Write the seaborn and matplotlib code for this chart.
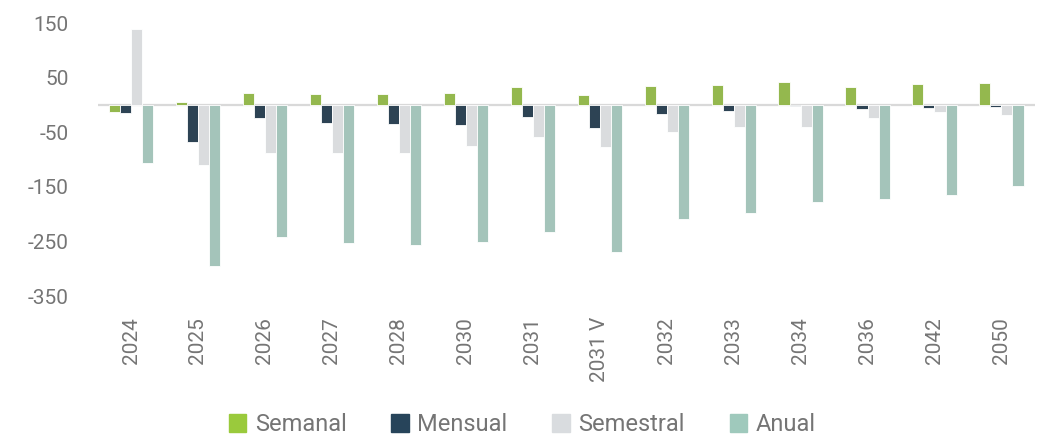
import matplotlib
matplotlib.use("Agg")
import matplotlib.pyplot as plt
import pandas as pd
import seaborn as sns

years = ["2024", "2025", "2026", "2027", "2028", "2030", "2031", "2031 V",
         "2032", "2033", "2034", "2036", "2042", "2050"]
semanal = [-13, 5, 22, 21, 21, 23, 33, 18, 35, 37, 43, 34, 38, 40]
mensual = [-15, -68, -23, -32, -34, -36, -21, -42, -17, -10, -2, -8, -5, -3]
semestral = [140, -110, -88, -87, -87, -75, -58, -77, -50, -40, -40, -23, -12, -19]
anual = [-107, -294, -242, -252, -257, -250, -232, -270, -208, -197, -178, -173, -165, -148]

series = ["Semanal", "Mensual", "Semestral", "Anual"]
colors = ["#9ACA3C", "#27445A", "#D9DCDF", "#9FC9BC"]
yticks = [150, 50, -50, -150, -250, -350]

df = pd.DataFrame({"year": years, "Semanal": semanal, "Mensual": mensual,
                   "Semestral": semestral, "Anual": anual})
long = df.melt(id_vars="year", var_name="serie", value_name="valor")

sns.set_style("white")
plt.rcParams["font.family"] = ["Roboto", "DejaVu Sans"]
plt.rcParams["axes.unicode_minus"] = False
txt = "#757575"

fig = plt.figure(figsize=(10.38, 4.38), dpi=100)
ax = fig.add_axes([0.094, 0.324, 0.903, 0.623])

sns.barplot(data=long, x="year", y="valor", hue="serie", hue_order=series,
            palette=colors, width=0.66, edgecolor="white", linewidth=0.6,
            ax=ax, legend=False)

ax.set_ylim(-350, 150)
ax.set_yticks(yticks)
ax.set_xlim(-0.5, len(years) - 0.5)
ax.axhline(0, color="#D9D9D9", lw=1.6, zorder=0)
for s in ax.spines.values():
    s.set_visible(False)
ax.tick_params(axis="both", length=0, colors=txt, labelsize=15)
ax.tick_params(axis="y", pad=21)
ax.tick_params(axis="x", pad=15)
plt.setp(ax.get_xticklabels(), rotation=90)
ax.set_xlabel("")
ax.set_ylabel("")

handles = [plt.Rectangle((0, 0), 1, 1, color=c) for c in colors]
fig.legend(handles, series, loc="center", bbox_to_anchor=(0.503, 0.03),
           ncol=4, frameon=False, fontsize=17, labelcolor=txt,
           handlelength=0.75, handleheight=0.75, handletextpad=0.35,
           columnspacing=1.9)

fig.savefig("out.png", dpi=100)
